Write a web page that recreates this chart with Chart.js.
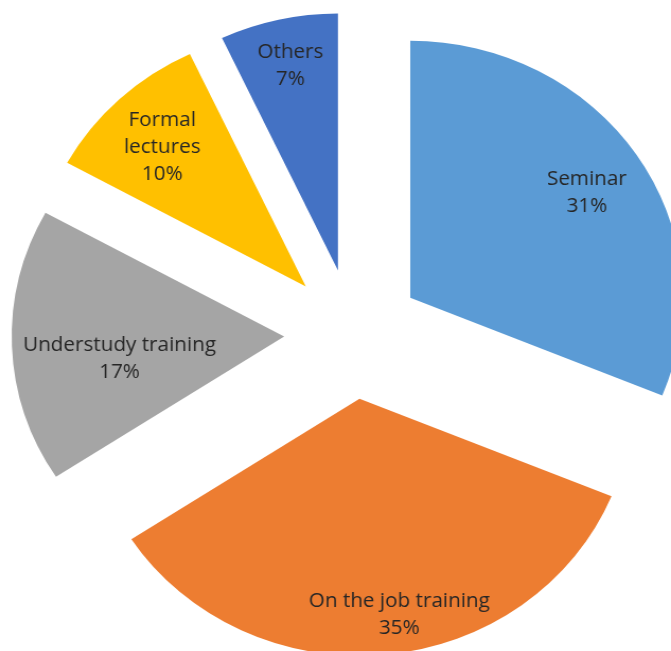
<!DOCTYPE html>
<html>
<head>
<meta charset="utf-8">
<script src="https://cdn.jsdelivr.net/npm/chart.js@4.4.1/dist/chart.umd.min.js"></script>
<style>
  html, body { margin: 0; padding: 0; background: #fff; }
  #wrap { position: relative; width: 671px; height: 651px; overflow: hidden; background: #fff; }
  #pie { position: absolute; left: 3px; top: -16px; transform-origin: 50% 50%; transform: scaleX(1.06); }
</style>
</head>
<body>
<div id="wrap"><canvas id="pie" width="700" height="700"></canvas></div>
<script>
// Chart data (shares, labels show them rounded)
const categories = ['Seminar', 'On the job training', 'Understudy training', 'Formal lectures', 'Others'];
const labelLines = [['Seminar'], ['On the job training'], ['Understudy training'], ['Formal', 'lectures'], ['Others']];
const shares = [31.2, 34.6, 17.2, 10, 7];
const sliceColors = ['#5B9BD5', '#ED7D31', '#A5A5A5', '#FFC000', '#4472C4'];

// how far each slice is pulled out of the pie (px)
const explode = 65;
// label placement: fraction of radius along slice bisector, plus small angle shift (deg)
const labelRadius = [0.77, 0.85, 0.61, 0.76, 0.82];
const labelTurn = [1.2, -4.5, -5.6, -0.7, 0.3];

// Chart.js' own "offset" also grows small slices, so pull them out by hand
const explodeSlices = {
  id: 'explodeSlices',
  beforeDatasetDraw(chart, args) {
    const ctx = chart.ctx;
    args.meta.data.forEach(function(arc) {
      const mid = (arc.startAngle + arc.endAngle) / 2;
      ctx.save();
      ctx.translate(Math.cos(mid) * explode, Math.sin(mid) * explode);
      arc.draw(ctx);
      ctx.restore();
    });
    return false;
  }
};

// Draws the category name and percent inside each slice
const sliceLabels = {
  id: 'sliceLabels',
  afterDatasetsDraw(chart) {
    const ctx = chart.ctx;
    const meta = chart.getDatasetMeta(0);
    ctx.save();
    ctx.font = '19.5px "Open Sans", sans-serif';
    ctx.fillStyle = '#262626';
    ctx.textAlign = 'center';
    ctx.textBaseline = 'middle';
    meta.data.forEach(function(arc, i) {
      const mid = (arc.startAngle + arc.endAngle) / 2;
      const ax = arc.x + Math.cos(mid) * explode;
      const ay = arc.y + Math.sin(mid) * explode;
      const a = mid + labelTurn[i] * Math.PI / 180;
      const r = arc.outerRadius * labelRadius[i];
      const tx = ax + Math.cos(a) * r;
      const ty = ay + Math.sin(a) * r + 1.5;
      const lines = labelLines[i].concat([Math.round(shares[i]) + '%']);
      const lh = 27;
      const y0 = ty - (lines.length - 1) * lh / 2;
      lines.forEach(function(line, j) {
        ctx.fillText(line, tx, y0 + j * lh);
      });
    });
    ctx.restore();
  }
};

new Chart(document.getElementById('pie'), {
  type: 'pie',
  data: {
    labels: categories,
    datasets: [{
      data: shares,
      backgroundColor: sliceColors,
      borderWidth: 0
    }]
  },
  options: {
    responsive: false,
    animation: false,
    radius: 257,
    plugins: {
      legend: { display: false },
      tooltip: { enabled: false }
    }
  },
  plugins: [explodeSlices, sliceLabels]
});
</script>
</body>
</html>
